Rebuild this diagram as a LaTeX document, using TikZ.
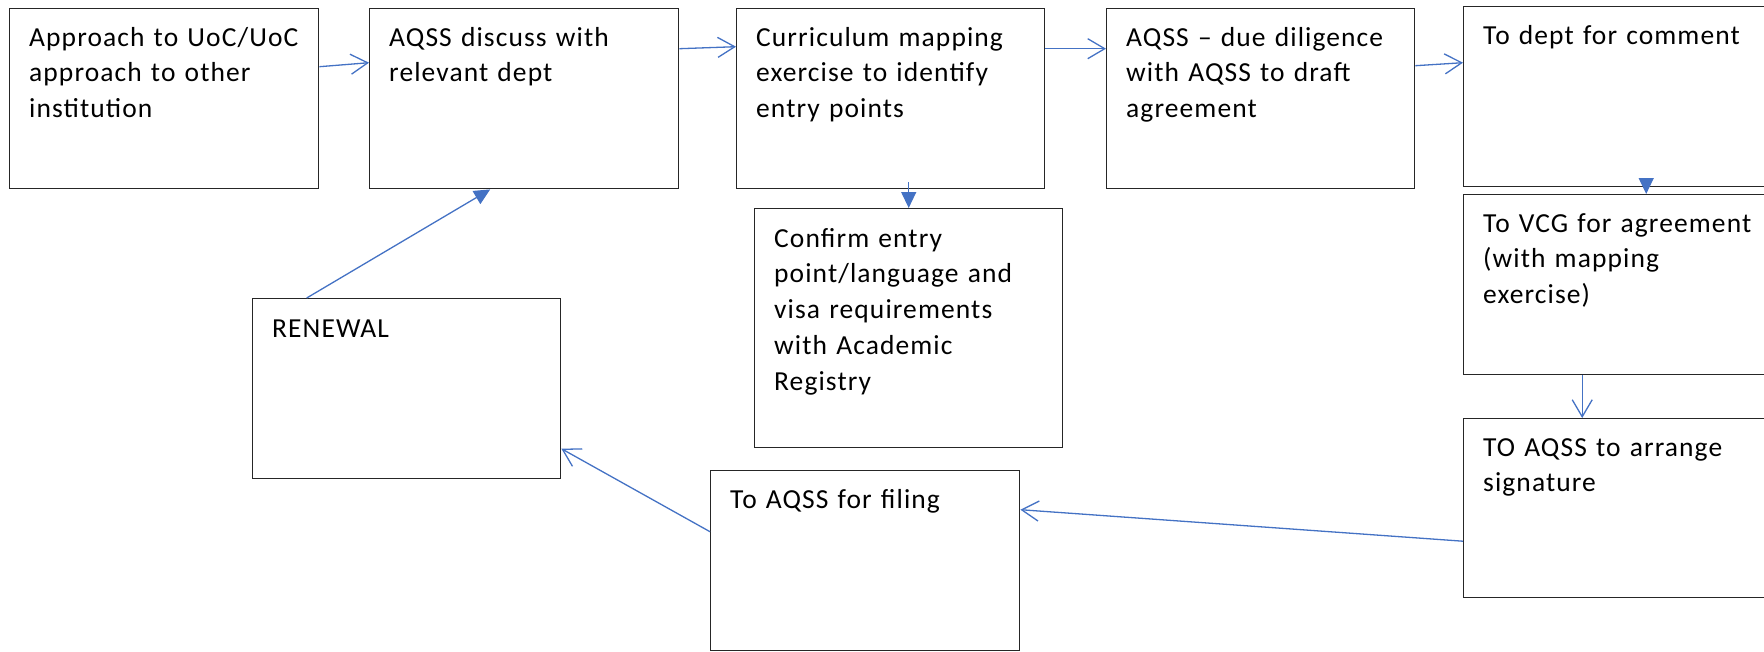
\documentclass[tikz,border=0pt]{standalone}
\usepackage{fontspec}
\setmainfont[LetterSpace=4]{Carlito}
\usetikzlibrary{arrows.meta,calc}
\definecolor{flowblue}{HTML}{4472C4}
\tikzset{
	box/.style={draw=black!85, line width=1.4pt, anchor=north west,
		minimum width=309pt, minimum height=180pt, inner sep=0pt},
	txt/.style={anchor=base west, align=left, text width=300pt, inner sep=0pt,
		font=\fontsize{27.5}{35.8}\selectfont},
	barb/.style={draw=flowblue, line width=1.3pt,
		-{Straight Barb[length=17pt,width=20pt,line width=1.3pt]}},
	tri/.style={draw=flowblue, line width=1.3pt,
		-{Triangle[length=16pt,width=15pt]}}
}

\begin{document}
\begin{tikzpicture}[x=1pt,y=-1pt]
	\useasboundingbox (0,0) rectangle (1764,651);
	\clip (0,0) rectangle (1764,651);
	
	% Top row
	\node[box] (approach) at (9,8) {};
	\node[box] (discuss) at (369,8) {};
	\node[box, minimum width=308pt] (mapping) at (736,8) {};
	\node[box, minimum width=308pt] (diligence) at (1106,8) {};
	\node[box] (comment) at (1463,6) {};
	
	% Right column
	\node[box] (vcg) at (1463,194) {};
	\node[box, minimum height=179pt] (sign) at (1463,418) {};
	
	% Middle and bottom
	\node[box, minimum width=308pt, minimum height=239pt] (confirm) at (754,208) {};
	\node[box, minimum width=308pt] (renewal) at (252,298) {};
	\node[box] (filing) at (710,470) {};
	
	% Texts
	\node[txt] (approach-t) at ($(approach.north west)+(20,38)$)
		{Approach to UoC/UoC\\approach to other\\institution};
	\node[txt] (discuss-t) at ($(discuss.north west)+(20,38)$)
		{AQSS discuss with\\relevant dept};
	\node[txt] (mapping-t) at ($(mapping.north west)+(20,38)$)
		{Curriculum mapping\\exercise to identify\\entry points};
	\node[txt] (diligence-t) at ($(diligence.north west)+(20,38)$)
		{AQSS – due diligence\\with AQSS to draft\\agreement};
	\node[txt] (comment-t) at ($(comment.north west)+(20,38)$)
		{To dept for comment};
	\node[txt] (vcg-t) at ($(vcg.north west)+(20,38)$)
		{To VCG for agreement\\(with mapping\\exercise)};
	\node[txt] (sign-t) at ($(sign.north west)+(20,38)$)
		{TO AQSS to arrange\\signature};
	\node[txt] (confirm-t) at ($(confirm.north west)+(20,39)$)
		{Confirm entry\\point/language and\\visa requirements\\with Academic\\Registry};
	\node[txt] (renewal-t) at ($(renewal.north west)+(20,39)$)
		{RENEWAL};
	\node[txt] (filing-t) at ($(filing.north west)+(20,38)$)
		{To AQSS for filing};
	
	% Connectors
	\draw[barb] ($(approach.east)+(0,-32)$) -- ($(discuss.west)+(0,-36)$);
	\draw[barb] ($(discuss.east)+(0,-50)$) -- ($(mapping.west)+(0,-52)$);
	\draw[barb] ($(mapping.east)+(0,-50)$) -- ($(diligence.west)+(0,-50)$);
	\draw[barb] ($(diligence.east)+(0,-33)$) -- ($(comment.west)+(0,-34)$);
	\draw[tri] ($(mapping.south -| confirm.north)+(0,-7)$) -- (confirm.north);
	\draw[tri] ($(comment.south)+(28,-8)$) -- ($(vcg.north)+(28,0)$);
	\draw[barb] ($(vcg.south)+(-36,0)$) -- ($(sign.north)+(-36,0)$);
	\draw[barb] ($(sign.west)+(0,33)$) -- ($(filing.east)+(0,-51)$);
	\draw[barb] ($(filing.west)+(0,-29)$) -- ($(renewal.east)+(0,60)$);
	\draw[tri] ($(renewal.north)+(-100,0)$) -- ($(discuss.south)+(-34,0)$);
	
\end{tikzpicture}
\end{document}
